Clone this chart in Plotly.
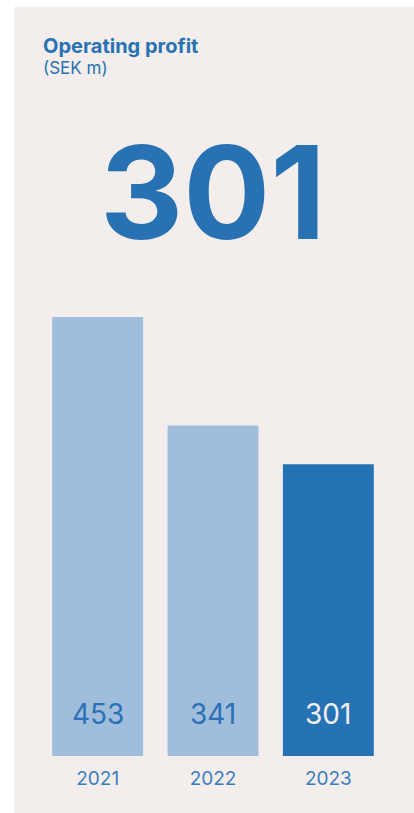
import plotly.graph_objects as go

years = ["2021", "2022", "2023"]
values = [453, 341, 301]
bar_colors = ["#a0bddc", "#a0bddc", "#2573b5"]
label_colors = ["#2a72b5", "#2a72b5", "#f4efed"]
title = "Operating profit"
subtitle = "(SEK m)"
headline = "301"

PANEL = "#f3eeec"
BLUE = "#2872b4"
FONT = "Inter"

fig = go.Figure()
fig.add_trace(go.Bar(
    x=years, y=values,
    marker=dict(color=bar_colors, line=dict(width=0)),
    width=0.788,
    hoverinfo="skip",
))

annotations = []
for i, (v, c) in enumerate(zip(values, label_colors)):
    annotations.append(dict(
        x=i, y=43, xref="x", yref="y", text=str(v), showarrow=False,
        font=dict(family=FONT, size=28, color=c), xanchor="center", yanchor="middle",
    ))
annotations += [
    dict(x=0.004, y=1.617, xref="paper", yref="paper", text=title, showarrow=False,
         xanchor="left", yanchor="middle",
         font=dict(family=FONT, size=20, color=BLUE, weight=700)),
    dict(x=0.004, y=1.567, xref="paper", yref="paper", text=subtitle, showarrow=False,
         xanchor="left", yanchor="middle",
         font=dict(family=FONT, size=17, color=BLUE)),
    dict(x=0.5014, y=1.285, xref="paper", yref="paper", text=headline, showarrow=False,
         xanchor="center", yanchor="middle",
         font=dict(family=FONT, size=129, color=BLUE, weight=700)),
]

fig.update_layout(
    width=414, height=813,
    margin=dict(l=40, r=28, t=317, b=57, pad=0),
    paper_bgcolor="white",
    plot_bgcolor="rgba(0,0,0,0)",
    showlegend=False,
    bargap=0.212,
    annotations=annotations,
    shapes=[dict(type="rect", xref="paper", yref="paper",
                 x0=-0.0751, x1=1.09, y0=-0.14, y1=1.706,
                 fillcolor=PANEL, line=dict(width=0), layer="below")],
    xaxis=dict(type="category", range=[-0.5, 2.5], showgrid=False, zeroline=False, showline=False,
               ticks="outside", ticklen=5, tickcolor="rgba(0,0,0,0)",
               tickfont=dict(family=FONT, size=19, color="#3a7dbf"), fixedrange=True),
    yaxis=dict(range=[0, 453], showgrid=False, zeroline=False, showline=False,
               showticklabels=False, fixedrange=True),
)

fig.write_html("out.html", config={"displayModeBar": False})
